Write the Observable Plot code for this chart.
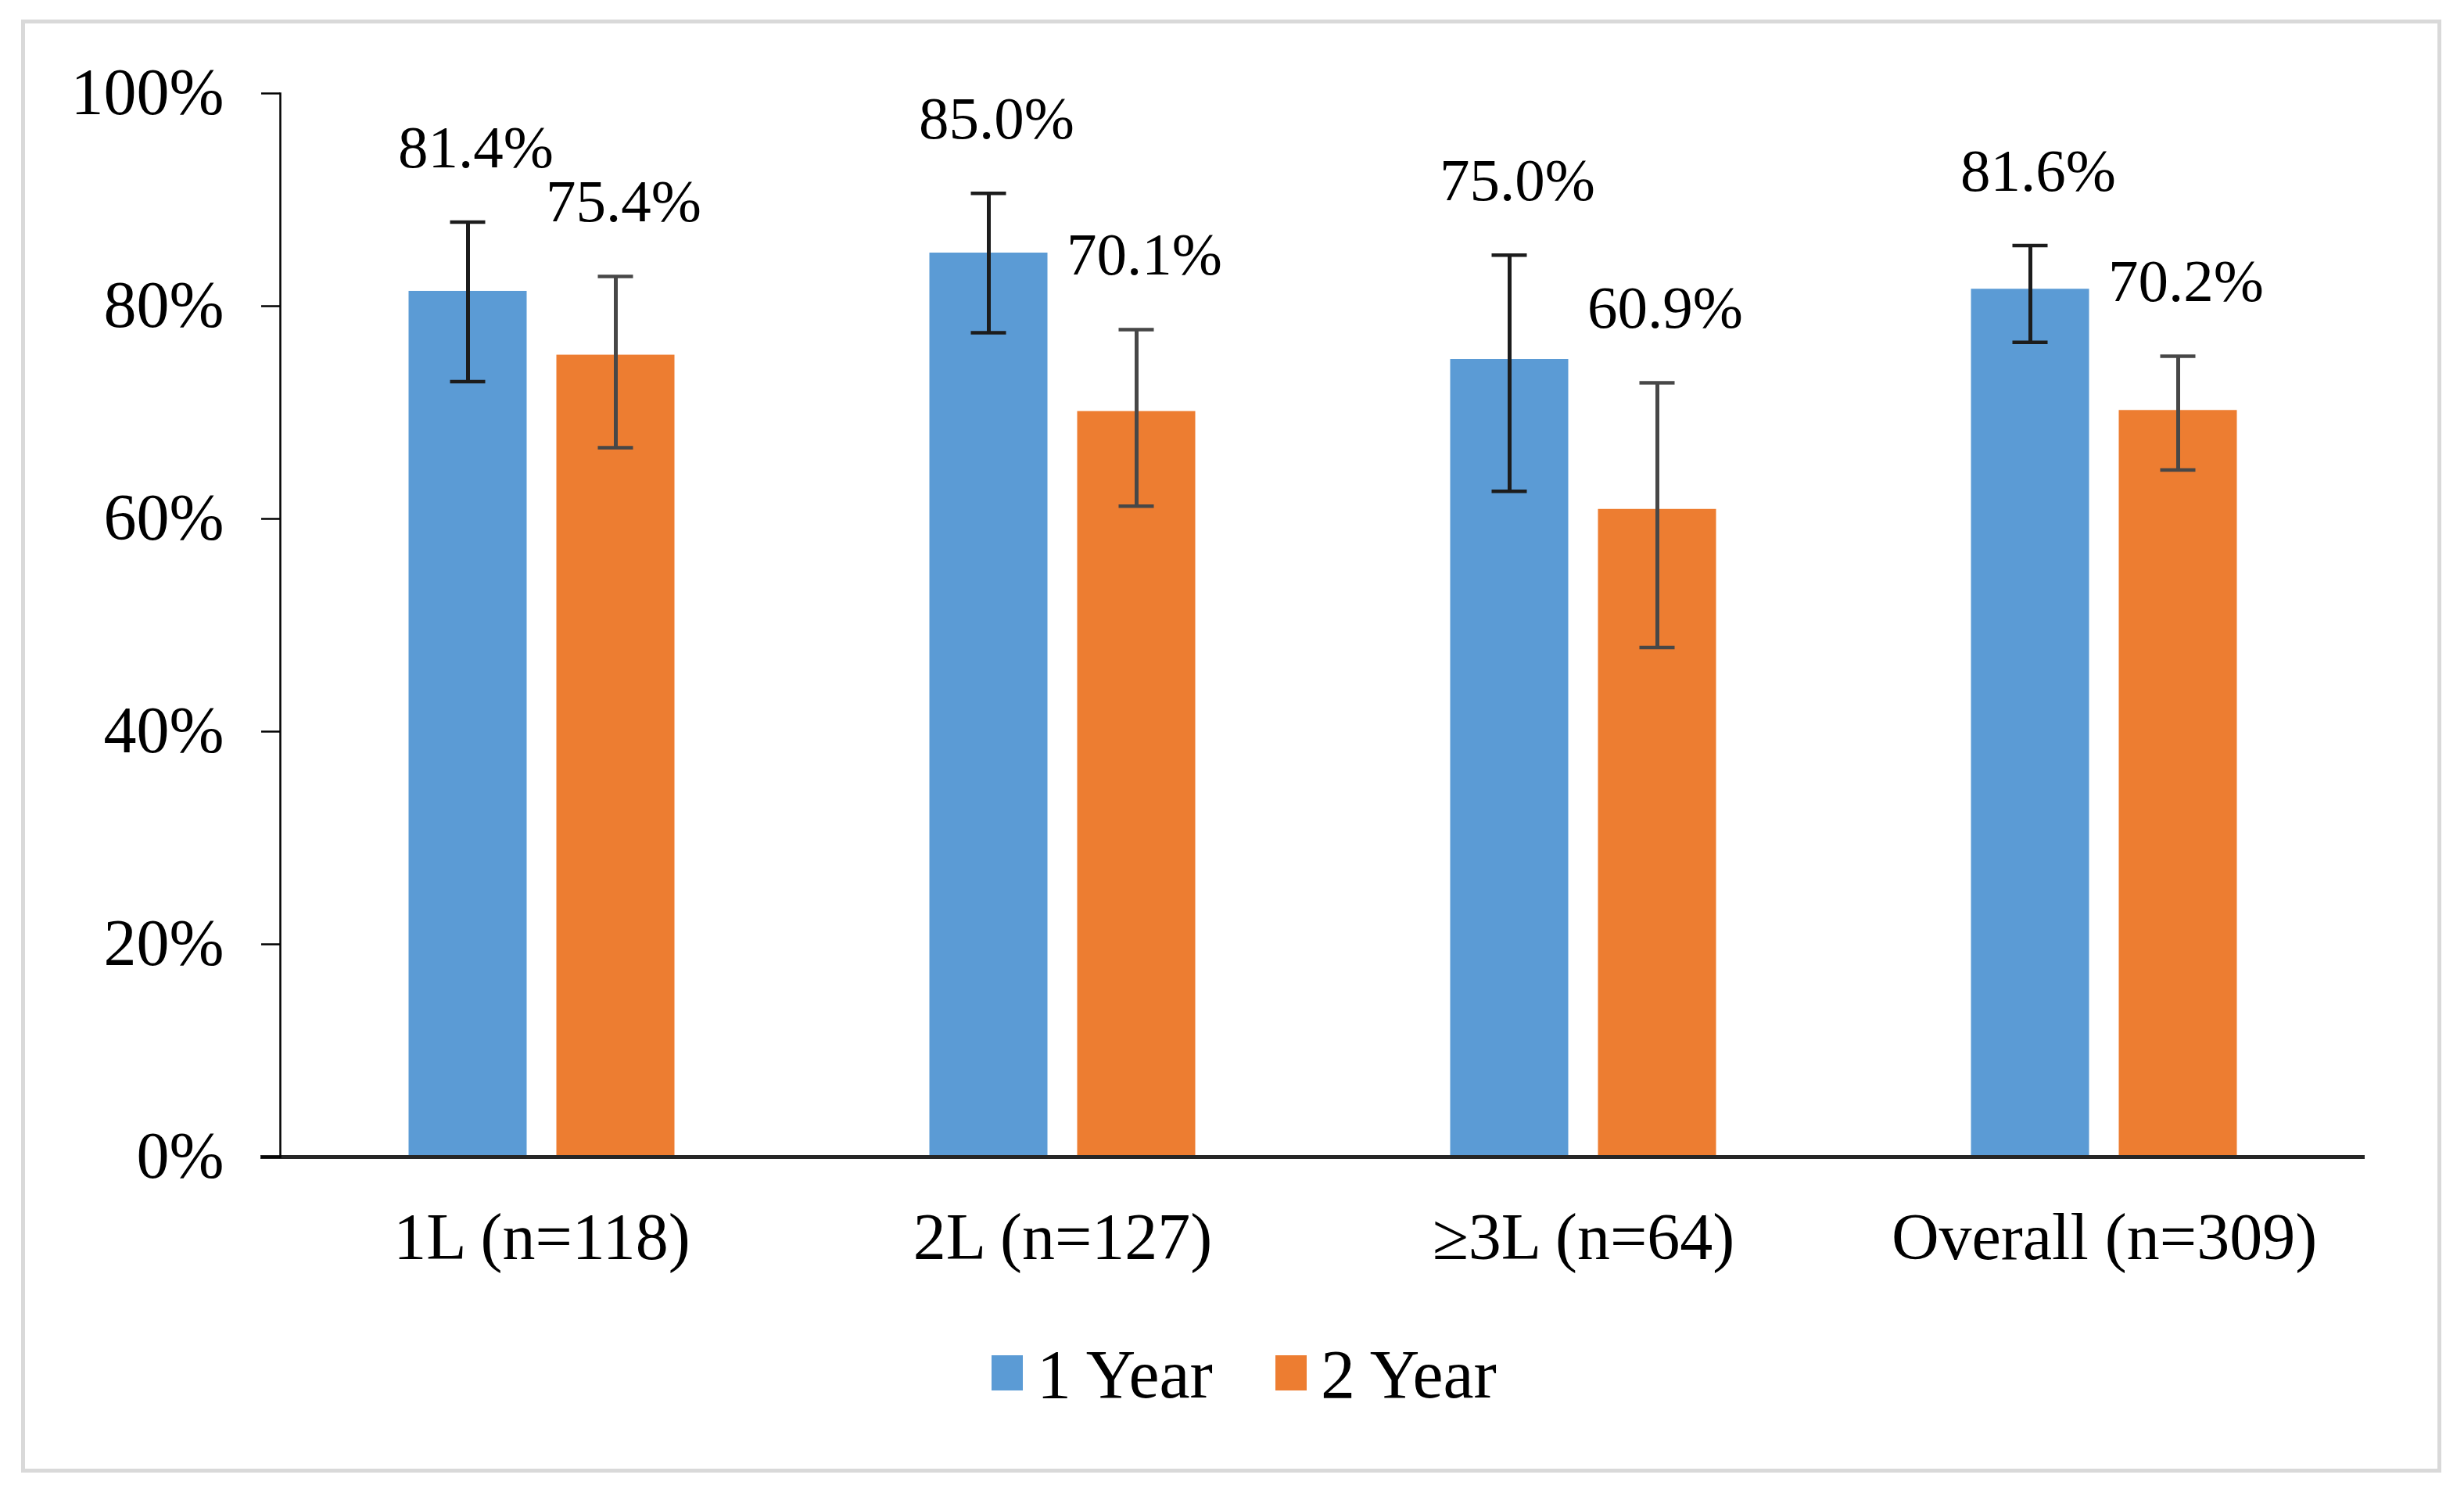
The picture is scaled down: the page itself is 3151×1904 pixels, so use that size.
<!DOCTYPE html>
<html>
<head>
<meta charset="utf-8">
<script src="https://cdn.jsdelivr.net/npm/d3@7"></script>
<script src="https://cdn.jsdelivr.net/npm/@observablehq/plot@0.6"></script>
<style>
  html, body { margin: 0; padding: 0; background: #fff; }
  #page { position: relative; width: 3151px; height: 1904px; font-family: "Liberation Serif", "Times New Roman", serif; color: #000; overflow: hidden; }
  #border { position: absolute; left: 27px; top: 25px; width: 3085px; height: 1848px; border: 5px solid #d9d9d9; }
  #chart { position: absolute; left: 0; top: 0; }
  #legend { position: absolute; left: 1268px; top: 1733px; height: 45px; display: flex; align-items: center; font-size: 88px; line-height: 45px; }
  .item { display: flex; align-items: center; }
  .item + .item { margin-left: 80px; }
  .swatch { width: 40px; height: 45px; margin-right: 18px; }
  .label { padding-top: 4px; white-space: nowrap; }
</style>
</head>
<body>
<div id="page">
  <div id="border"></div>
  <div id="chart"></div>
  <div id="legend"></div>
</div>
<script>
const categories = ["1L (n=118)", "2L (n=127)", "≥3L (n=64)", "Overall (n=309)"];
const series = ["1 Year", "2 Year"];
const oneYear = [81.4, 85.0, 75.0, 81.6];
const twoYear = [75.4, 70.1, 60.9, 70.2];
const oneYearLow = [72.9, 77.5, 62.6, 76.6];
const oneYearHigh = [87.9, 90.6, 84.8, 85.7];
const twoYearLow = [66.7, 61.2, 47.9, 64.6];
const twoYearHigh = [82.8, 77.8, 72.8, 75.3];
const yTicks = [0, 20, 40, 60, 80, 100];
const colors = ["#5B9BD5", "#ED7D31"];
const errorColors = ["#1c1c1c", "#474747"];

const values = [oneYear, twoYear];
const lows = [oneYearLow, twoYearLow];
const highs = [oneYearHigh, twoYearHigh];
const offsets = [-94.5, 94.5];

const marks = [];
series.forEach((s, k) => {
  const rows = categories.map((c, i) => ({
    category: c, series: s, value: values[k][i], low: lows[k][i], high: highs[k][i]
  }));
  marks.push(Plot.barY(rows, {x: "category", y: "value", fill: colors[k], dx: offsets[k]}));
  marks.push(Plot.ruleX(rows, {x: "category", y1: "low", y2: "high", dx: offsets[k], stroke: errorColors[k], strokeWidth: 5}));
  marks.push(Plot.tickY(rows, {x: "category", y: "low", dx: offsets[k], insetLeft: 53, insetRight: 53, stroke: errorColors[k], strokeWidth: 4.5}));
  marks.push(Plot.tickY(rows, {x: "category", y: "high", dx: offsets[k], insetLeft: 53, insetRight: 53, stroke: errorColors[k], strokeWidth: 4.5}));
  marks.push(Plot.text(rows, {x: "category", y: "high", text: d => d.value.toFixed(1) + "%", dx: offsets[k] + 10, dy: -95, fontSize: 77, fill: "#000"}));
});

marks.push(Plot.ruleY([0], {stroke: "#262626", strokeWidth: 5, insetLeft: -25}));
marks.push(Plot.frame({anchor: "left", stroke: "#000", strokeWidth: 2.5}));
marks.push(Plot.axisY({ticks: yTicks, tickFormat: d => d + "%", tickSize: 24, tickPadding: 48, fontSize: 84, strokeWidth: 2.5}));
marks.push(Plot.axisX({tickSize: 0, tickPadding: 71, fontSize: 84}));

const chart = Plot.plot({
  width: 3151,
  height: 1660,
  marginTop: 119,
  marginBottom: 181,
  marginLeft: 358,
  marginRight: 127,
  style: {fontFamily: "Liberation Serif, 'Times New Roman', serif", color: "#000", background: "transparent", overflow: "visible"},
  x: {domain: categories, paddingInner: 0.7734, paddingOuter: 0.3867, label: null},
  y: {domain: [0, 100], label: null},
  marks
});
document.getElementById("chart").appendChild(chart);

const legend = document.getElementById("legend");
series.forEach((s, k) => {
  const item = document.createElement("div");
  item.className = "item";
  const sw = document.createElement("div");
  sw.className = "swatch";
  sw.style.background = colors[k];
  const lab = document.createElement("span");
  lab.className = "label";
  lab.textContent = s;
  item.appendChild(sw);
  item.appendChild(lab);
  legend.appendChild(item);
});
</script>
</body>
</html>
